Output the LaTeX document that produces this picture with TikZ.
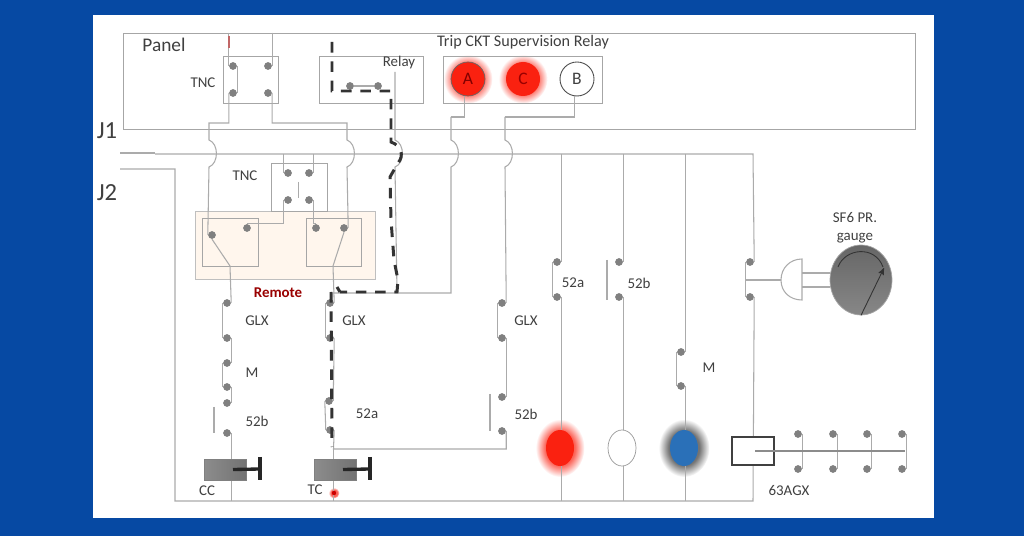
\documentclass[tikz,border=0pt]{standalone}
\usepackage{fontspec}
\setmainfont{Carlito}
\usetikzlibrary{positioning,arrows,shapes.geometric,calc}
\definecolor{wirec}{HTML}{ABABAB}
\definecolor{pagec}{HTML}{0649A3}
\definecolor{textc}{HTML}{404040}
\definecolor{lampred}{HTML}{FA2110}
\definecolor{lampblue}{HTML}{2A70B8}
\pgfdeclareradialshading{redglowa}{\pgfpoint{0bp}{0bp}}{color(0bp)=(lampred!70); color(15bp)=(lampred!70); color(25bp)=(white); color(50bp)=(white)}
\pgfdeclareradialshading{blueglowa}{\pgfpoint{0bp}{0bp}}{color(0bp)=(black!55); color(15bp)=(black!55); color(25bp)=(white); color(50bp)=(white)}

\begin{document}
\begin{tikzpicture}[
		x=0.02cm, y=-0.02cm,
		> = stealth',
		wire/.style = {draw=wirec,line width=0.6pt},
		trace/.style = {draw=black!80,line width=1.7pt,dash pattern=on 6pt off 5pt},
		bump/.style = {bend left=70},
		contact/.style = {circle,fill=black!50,inner sep=0pt,minimum size=4.4pt},
		box/.style = {rectangle,draw=black!35,line width=0.5pt,inner sep=0pt},
		lamp/.style = {ellipse,inner sep=0pt,minimum width=0.56cm,minimum height=0.72cm},
		ring/.style = {circle,inner sep=0pt,minimum size=0.68cm,font=\fontsize{10}{12}\selectfont},
		coil/.style = {box,draw=black!50,left color=black!45,right color=black!55,minimum width=0.84cm,minimum height=0.42cm},
		plunger/.style = {draw=black!85,line width=1.9pt},
		lab/.style = {text=textc,inner sep=0pt,font=\fontsize{8.5}{10}\selectfont}
		]
		\useasboundingbox (0,0) rectangle (1024,536);
		\fill[pagec] (0,0) rectangle (1024,536);
		\fill[white] (93,15) rectangle (934,518);

		% glow under the lamps
		\node[circle,shading=redglowa,inner sep=0pt,minimum size=0.98cm] (glowa) at (468,79) {};
		\node[circle,shading=redglowa,inner sep=0pt,minimum size=0.98cm] (glowc) at (523,79) {};
		\node[ellipse,shading=redglowa,inner sep=0pt,minimum width=0.98cm,minimum height=1.16cm] (glowr) at (560,448) {};
		\node[ellipse,shading=blueglowa,inner sep=0pt,minimum width=1.02cm,minimum height=1.16cm] (glowb) at (684,448) {};
		\node[circle,shading=redglowa,inner sep=0pt,minimum size=0.22cm] (glowt) at (334,493) {};

		% boxes
		\node[box,minimum width=15.86cm,minimum height=1.92cm] (panel) at (519.5,81) {};
		\node[box,minimum width=1.1cm,minimum height=0.94cm] (tncbox) at (250.5,79.5) {};
		\node[box,minimum width=2.08cm,minimum height=0.94cm] (relaybox) at (371,79.5) {};
		\node[box,minimum width=3.18cm,minimum height=0.94cm] (tripbox) at (522.5,79.5) {};
		\node[box,draw=black!25,fill=orange!7,minimum width=3.6cm,minimum height=1.36cm] (remote) at (285,245) {};
		\node[box,minimum width=1.12cm,minimum height=0.96cm] (tnctwo) at (299,187) {};
		\node[box,minimum width=1.12cm,minimum height=0.96cm] (remleft) at (230,242) {};
		\node[box,minimum width=1.1cm,minimum height=0.96cm] (remright) at (333.5,242) {};

		% contacts
		\foreach \name/\x/\y in {tnca/233/66,tncb/268/66,tncc/233/93,tncd/268/93,
			relc/350/86,reld/378/86,
			twoa/288/173,twob/309/173,twoc/288/200,twod/309/200,
			swl/212/235,swm/247/228,swn/316/228,swr/344/228,
			glxa/227/303,glxb/227/338,ma/227/363,mb/227/387,nba/227/403,nbb/227/433,
			gtwa/330/303,gtwb/330/338,aca/329/401,acb/330/430,
			gtha/502/303,gthb/502/338,bta/502/397,btb/502/431,
			laa/557/262,lab/557/297,lba/619/262,lbb/619/297,lma/681/352,lmb/681/386,
			sfa/750/262,sfb/750/297,
			xa/798/434,xb/798/469,xc/833/434,xd/833/469,xe/867/434,xf/867/469,xg/902/434,xh/902/469}
			\node[contact] (\name) at (\x,\y) {};

		% corner points
		\foreach \name/\x/\y in {jonel/120/153,jonem/155/153,jtwol/120/169,jtwom/175/169,jtwob/175/501,
			busl/155/154,busr/753/154,busb/753/501,
			leftt/209/123,lefta/209/140,leftb/209/167,
			rightt/347/123,righta/347/140,rightb/347/167,
			swlo/230/266,swro/333/266,
			rta/395/72,rtb/395/140,rtc/395/167,rtd/397/293,
			acj/333.5/449,retl/333/293,
			ata/451/117,atb/451/140,atc/451/167,atd/451/293,
			bja/505/117,bjb/505/140,bjc/505/167,
			ttop/229/36,tbot/229/48,
			bara/214/407,barb/214/433,barc/490/394,bard/490/431,bare/607/260,barf/607/300,
			dtop/802/259,dmid/781/280,dbot/802/300,
			xl/755/451,xr/905/451,
			ptop/802/273,pbot/802/287,
			needle/884/268,arca/838/267,arcb/883/267,
			da/332/42,db/332/91,dc/391/91,dd/391/142,de/390/177,df/391/220,dg/394/260,dh/398/280,di/397/292,dj/340/292,
			dk/331/292,dl/332/447}
			\coordinate (\name) at (\x,\y);

		% wiring
		\draw[wire] (jonel) -- (jonem);
		\draw[wire] (jtwol) -- (jtwom) -- (jtwob) -- (busb) -- (sfb.east);
		\draw[wire] (busl) -- (busr) -- (sfa.east);
		\draw[wire] (sfa.west) -- (sfb.west);
		\draw[wire] (tnca.west |- panel.north) -- (tnca.west);
		\draw[wire] (tncb.east |- panel.north) -- (tncb.east);
		\draw[wire] (tnca.east) -- (tncc.east);
		\draw[wire] (tncc.west) |- (leftt) -- (lefta) to[bump] (leftb) -- (swl.west);
		\draw[wire] (tncd.east) |- (rightt) -- (righta) to[bump] (rightb) -- (swr.east);
		\draw[wire] (twoa.west |- busl) -- (twoa.west);
		\draw[wire] (twob.east |- busl) -- (twob.east);
		\draw[wire] (twoc.west) |- (swm.north);
		\draw[wire] (twod.east) |- (swn.north);
		\draw[wire] ($(twoa)!0.5!(twob)+(0,9)$) -- ($(twoc)!0.5!(twod)+(0,-2)$);
		\draw[wire] (swl.south) -- (swlo) -- (glxa.east);
		\draw[wire] (swr.south) -- (swro) -- (gtwa.east);
		\draw[wire] (glxa.west) -- (glxb.west);
		\draw[wire] (glxb.east) -- (ma.east);
		\draw[wire] (ma.west) -- (mb.west);
		\draw[wire] (mb.east) -- (nba.east);
		\draw[wire] (bara) -- (barb);
		\draw[wire] (nbb.east) -- (nbb.east |- busb);
		\draw[wire] (gtwa.west) -- (gtwb.west);
		\draw[wire] (gtwb.east) -- (aca.east);
		\draw[wire] (aca.west) -- (acb.west);
		\draw[wire] (acb.east) -- (acj) -| (btb.east);
		\draw[wire] (acj) -- (acj |- busb);
		\draw[wire] (rta) -- (rtb) to[bump] (rtc) -- (rtd);
		\draw[wire] (relc) -- (reld);
		\draw[wire] (ata) -- (atb) to[bump] (atc) -- (atd) -- (retl);
		\draw[wire] (gtha.west) -- (gthb.west);
		\draw[wire] (gthb.east) -- (bta.east);
		\draw[wire] (barc) -- (bard);
		\draw[wire] (bja) -- (bjb) to[bump] (bjc) -- (gtha.east);
		\draw[wire] (laa.east |- busl) -- (laa.east);
		\draw[wire] (laa.west) -- (lab.west);
		\draw[wire] (lab.east) -- (lab.east |- busb);
		\draw[wire] (lba.east |- busl) -- (lba.east);
		\draw[wire] (bare) -- (barf);
		\draw[wire] (lbb.east) -- (lbb.east |- busb);
		\draw[wire] (lma.east |- busl) -- (lma.east);
		\draw[wire] (lma.west) -- (lmb.west);
		\draw[wire] (lmb.east) -- (lmb.east |- busb);
		\draw[wire] (xa.east) -- (xb.east);
		\draw[wire] (xc.east) -- (xd.east);
		\draw[wire] (xe.east) -- (xf.east);
		\draw[wire] (xg.east) -- (xh.east);

		% lamps and relay heads
		\node[ring,draw=black!60,line width=0.4pt,fill=lampred,text=red!50!black] (reda) at (468,79) {A};
		\node[ring,fill=lampred,text=red!60!black] (redc) at (523,79) {C};
		\node[ring,draw=black!70,line width=0.5pt,fill=white,text=textc] (whiteb) at (577,79) {B};
		\node[lamp,fill=lampred] (lampr) at (560,448) {};
		\node[lamp,draw=black!40,fill=white] (lampw) at (622,448) {};
		\node[lamp,fill=lampblue] (lampb) at (684,448) {};
		\draw[wire] (reda.-103) |- (ata);
		\draw[wire] (whiteb.-97) |- (bja);

		% closing coils
		\node[coil] (cc) at (225,469.5) {};
		\node[coil] (tc) at (335,469.5) {};
		\coordinate (cctip) at (260,469);
		\coordinate (tctip) at (370,469);
		\draw[plunger] (cc.center) ++(8,0) -- (cctip);
		\draw[plunger] (tc.center) ++(8,0) -- (tctip);
		\draw[plunger] ($(cctip)+(0,-12)$) -- ($(cctip)+(0,11)$);
		\draw[plunger] ($(tctip)+(0,-12)$) -- ($(tctip)+(0,11)$);
		\node[circle,fill=red!80!black,inner sep=0pt,minimum size=2.5pt] (tcdot) at (334,493) {};

		% 63AGX
		\node[box,draw=black!75,line width=0.6pt,fill=white,minimum width=0.84cm,minimum height=0.56cm] (agx) at (753,451) {};
		\draw[wire,draw=black!45] (xl) -- (xr);

		% gauge
		\node[ellipse,draw=black!35,top color=black!60,bottom color=black!47,inner sep=0pt,minimum width=1.24cm,minimum height=1.4cm] (gauge) at (861,280) {};
		\draw[wire] (sfa.west |- dmid) -- (dmid);
		\draw[wire,fill=white] (dtop) .. controls (790,259) and (781,268) .. (dmid) .. controls (781,292) and (790,300) .. (dbot) -- cycle;
		\draw[wire] (ptop) -- (ptop -| gauge.west);
		\draw[wire] (pbot) -- (pbot -| gauge.west);
		\draw[->,draw=black!80,line width=0.5pt] (gauge.south) -- (needle);
		\draw[draw=black!80,line width=0.5pt] (arca) .. controls (845,248) and (875,245) .. (arcb);

		% dashed trip path
		\draw[draw=red!60!black!60,line width=1.2pt] (ttop) -- (tbot);
		\draw[trace] (da) -- (db) -- (dc) -- (dd) .. controls (402,146) and (404,156) .. (398,163) -- (de) -- (df) -- (dg) -- (dh) -- (di) -- (dj);
		\draw[trace] (dj) -- (337,287);
		\draw[trace] (dk) -- (dl);

		% denote
		\node[lab,font=\fontsize{11}{13}\selectfont] (paneltxt) at (164,45) {Panel};
		\node[lab,font=\fontsize{14}{16}\selectfont] (jone) at (107,131) {J1};
		\node[lab,font=\fontsize{14}{16}\selectfont] (jtwo) at (107,193) {J2};
		\node[lab] (tnctxt) at (203,83) {TNC};
		\node[lab] (tnctxtb) at (245,176) {TNC};
		\node[lab] (relaytxt) at (399,63) {Relay};
		\node[lab,font=\fontsize{9.2}{11}\selectfont] (triptxt) at (523,42) {Trip CKT Supervision Relay};
		\node[lab,text=red!60!black,font=\fontsize{8.5}{10}\bfseries\selectfont] (remotetxt) at (278,293) {Remote};
		\node[lab] (glxone) at (257,321) {GLX};
		\node[lab] (glxtwo) at (354,321) {GLX};
		\node[lab] (glxthree) at (526,321) {GLX};
		\node[lab] (mone) at (252,373) {M};
		\node[lab] (mtwo) at (709,368) {M};
		\node[lab] (nbone) at (257,421) {52b};
		\node[lab] (natwo) at (367,414) {52a};
		\node[lab] (nbthree) at (526,414) {52b};
		\node[lab] (nafour) at (573,283) {52a};
		\node[lab] (nbfour) at (639,283) {52b};
		\node[lab] (cctxt) at (207,491) {CC};
		\node[lab] (tctxt) at (315,490) {TC};
		\node[lab] (agxtxt) at (789,491) {63AGX};
		\node[lab,align=center] (sftxt) at (855,228) {SF6 PR.\\gauge};
	\end{tikzpicture}
\end{document}
